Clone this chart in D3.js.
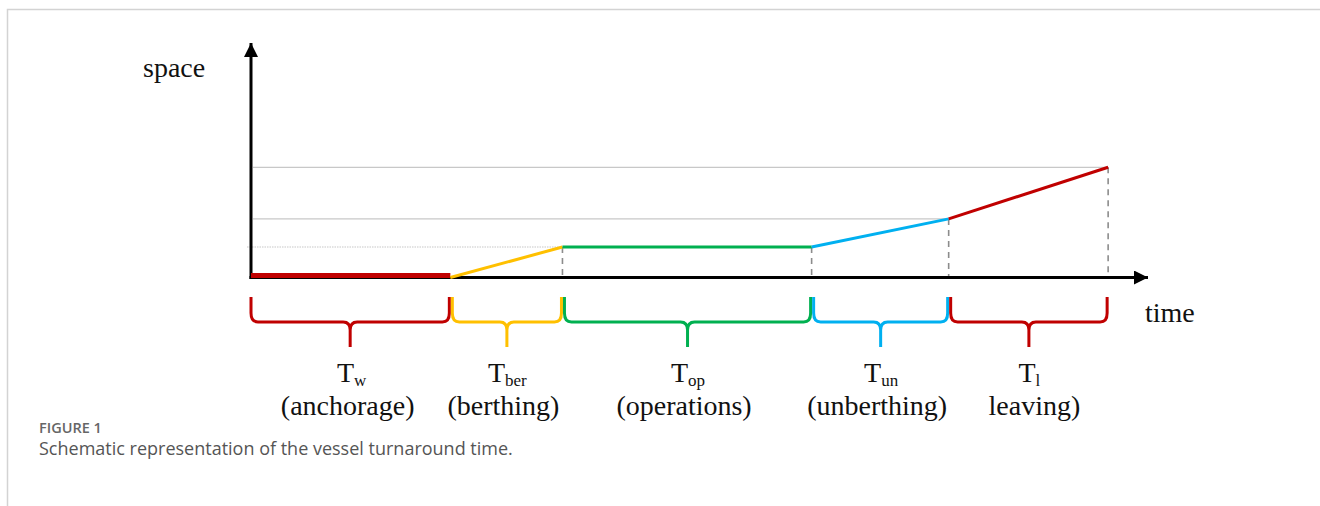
<!DOCTYPE html>
<html>
<head>
<meta charset="utf-8">
<script src="https://cdn.jsdelivr.net/npm/d3@7"></script>
<style>
  body { margin: 0; background: #fff; }
  svg { display: block; }
</style>
</head>
<body>
<div id="chart"></div>
<script>
// breakpoints of the turnaround (time, space)
const times  = [0, 4, 6.25, 11.25, 14, 17.2];
const spaces = [0, 0, 1.3, 1.3, 2.5, 4.7];

// one entry per phase, between breakpoint i and i+1
const phaseSubs   = ["w", "ber", "op", "un", "l"];
const phaseDescs  = ["(anchorage)", "(berthing)", "(operations)", "(unberthing)", "leaving)"];
const phaseColors = ["#c00000", "#ffc000", "#00b050", "#00b0f0", "#c00000"];

const axisNames = ["space", "time"];
const captionTitle = "FIGURE 1";
const captionText  = "Schematic representation of the vessel turnaround time.";

const W = 1320, H = 506;
const serif = "'Liberation Serif', 'Times New Roman', serif";

const svg = d3.select("#chart").append("svg")
    .attr("width", W)
    .attr("height", H);

// frame
svg.append("path")
    .attr("d", `M7.5,${H} L7.5,9.5 L${W},9.5`)
    .attr("fill", "none")
    .attr("stroke", "#d3d3d3")
    .attr("stroke-width", 1.5);

const x = d3.scaleLinear().domain([0, 18]).range([251, 1148]);
const y = d3.scaleLinear().domain([0, 10]).range([277.5, 43]);

const defs = svg.append("defs");
defs.append("marker")
    .attr("id", "arrow")
    .attr("viewBox", "0 0 10 10")
    .attr("refX", 10).attr("refY", 5)
    .attr("markerUnits", "userSpaceOnUse")
    .attr("markerWidth", 15).attr("markerHeight", 14)
    .attr("orient", "auto")
  .append("path")
    .attr("d", "M0,0 L10,5 L0,10 Z")
    .attr("fill", "#000");

// grey reference lines at each level reached
const levels = [2, 4, 5];
svg.append("g").selectAll("line")
  .data(levels)
  .join("line")
    .attr("x1", (d, i) => i === 0 ? x(0) - 4 : x(0) + 2)
    .attr("x2", d => x(times[d]))
    .attr("y1", d => y(spaces[d]))
    .attr("y2", d => y(spaces[d]))
    .attr("stroke", "#c8c8c8")
    .attr("stroke-width", 1.2)
    .attr("stroke-dasharray", (d, i) => i === 0 ? "1.5,1" : null);

// dashed drops to the time axis
svg.append("g").selectAll("line")
  .data([2, 3, 4, 5])
  .join("line")
    .attr("x1", d => x(times[d]))
    .attr("x2", d => x(times[d]))
    .attr("y1", d => y(spaces[d]))
    .attr("y2", y(0))
    .attr("stroke", "#8c8c8c")
    .attr("stroke-width", 1.6)
    .attr("stroke-dasharray", "6,5");

// axes
svg.append("line")
    .attr("x1", x(0)).attr("y1", y(0) + 1.5)
    .attr("x2", x(0)).attr("y2", y(10))
    .attr("stroke", "#000").attr("stroke-width", 3)
    .attr("marker-end", "url(#arrow)");
svg.append("line")
    .attr("x1", x(0) - 1.5).attr("y1", y(0))
    .attr("x2", x(18)).attr("y2", y(0))
    .attr("stroke", "#000").attr("stroke-width", 3)
    .attr("marker-end", "url(#arrow)");

// phase segments
const segs = d3.range(phaseSubs.length).map(i => ({
  x0: times[i], x1: times[i + 1],
  y0: spaces[i], y1: spaces[i + 1],
  color: phaseColors[i], sub: phaseSubs[i], desc: phaseDescs[i], i: i
}));

svg.append("g").selectAll("line")
  .data(segs)
  .join("line")
    .attr("x1", d => x(d.x0))
    .attr("x2", d => x(d.x1))
    .attr("y1", d => d.i === 0 ? y(d.y0) - 2 : y(d.y0))
    .attr("y2", d => d.i === 0 ? y(d.y1) - 2 : y(d.y1))
    .attr("stroke", d => d.color)
    .attr("stroke-width", d => d.i === 0 ? 5 : 3)
    .attr("stroke-linecap", "butt");

// curly braces under each phase
function brace(a, b) {
  const top = 297, mid = 322, tip = 347, m = (a + b) / 2;
  return `M${a},${top} L${a},${mid - 9} Q${a},${mid} ${a + 7},${mid}` +
         ` L${m - 7},${mid} Q${m},${mid} ${m},${mid + 8} L${m},${tip}` +
         ` M${m},${mid + 8} Q${m},${mid} ${m + 7},${mid}` +
         ` L${b - 7},${mid} Q${b},${mid} ${b},${mid - 9} L${b},${top}`;
}

svg.append("g").selectAll("path")
  .data(segs)
  .join("path")
    .attr("d", d => brace(x(d.x0) + (d.i ? 2 : 0), x(d.x1) - 1))
    .attr("fill", "none")
    .attr("stroke", d => d.color)
    .attr("stroke-width", 3)
    .attr("stroke-linejoin", "round");

// phase labels
const lab = svg.append("g")
    .attr("font-family", serif)
    .attr("fill", "#111")
    .attr("text-anchor", "middle");

const tl = lab.selectAll("text.t")
  .data(segs)
  .join("text")
    .attr("class", "t")
    .attr("x", d => (x(d.x0) + x(d.x1)) / 2 + 1)
    .attr("y", 382)
    .attr("font-size", 28);
tl.append("tspan").text("T");
tl.append("tspan")
    .attr("font-size", 17)
    .attr("dy", 4)
    .text(d => d.sub);

lab.selectAll("text.d")
  .data(segs)
  .join("text")
    .attr("class", "d")
    .attr("x", d => (x(d.x0) + x(d.x1)) / 2 + (d.i === 4 ? 6 : -3))
    .attr("y", 415)
    .attr("font-size", 28)
    .text(d => d.desc);

// axis names
svg.append("text")
    .attr("x", 143).attr("y", 77)
    .attr("font-family", serif).attr("font-size", 28)
    .attr("fill", "#111")
    .text(axisNames[0]);
svg.append("text")
    .attr("x", 1145).attr("y", 322)
    .attr("font-family", serif).attr("font-size", 28)
    .attr("fill", "#111")
    .text(axisNames[1]);

// caption
svg.append("text")
    .attr("x", 39).attr("y", 433)
    .attr("font-family", "'Open Sans', sans-serif")
    .attr("font-size", 14.5).attr("font-weight", 600)
    .attr("fill", "#666")
    .text(captionTitle);
svg.append("text")
    .attr("x", 39).attr("y", 455)
    .attr("font-family", "'Open Sans', sans-serif")
    .attr("font-size", 18)
    .attr("fill", "#555")
    .text(captionText);
</script>
</body>
</html>
